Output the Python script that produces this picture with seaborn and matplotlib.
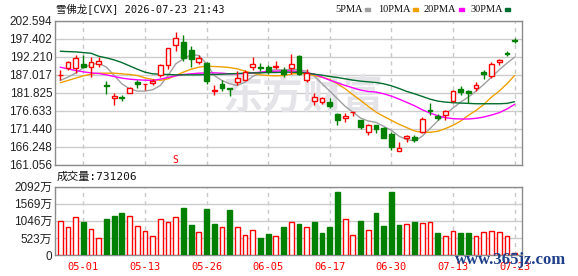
import matplotlib
matplotlib.use("Agg")
import matplotlib.pyplot as plt
from matplotlib.patches import Rectangle
import numpy as np
import pandas as pd
import seaborn as sns

# ---- values ----
title = "雪佛龙[CVX] 2026-07-23 21:43"
volume_note = "成交量:731206"

tick_pos = [3, 11, 19, 27, 35, 43, 51, 59]
tick_dates = ["05-01", "05-13", "05-26", "06-05", "06-17", "06-30", "07-13", "07-23"]

price_ticks = ["161.056", "166.248", "171.440", "176.633", "181.825",
               "187.017", "192.210", "197.402", "202.594"]
vol_ticks = [0, 523, 1046, 1569, 2092]
vol_tick_labels = ["0", "523万", "1046万", "1569万", "2092万"]

opens = [186.9, 188.9, 188.9, 190.0, 189.4, 190.2, 184.1, 180.2, 180.7, 181.8,
         184.9, 184.35, 184.6, 187.0, 189.9, 195.6, 196.4, 194.2, 190.6, 190.4,
         182.4, 184.4, 183.1, 184.9, 185.6, 189.4, 189.4, 189.4, 189.3, 188.5,
         188.9, 192.3, 185.4, 179.5, 179.1, 179.2, 175.8, 174.5, 176.2, 174.1,
         170.6, 172.7, 171.8, 170.1, 165.1, 168.7, 169.2, 170.5, 177.0, 175.1,
         175.4, 179.5, 182.9, 182.5, 183.3, 187.7, 186.6, 190.6, 193.4, 197.0]
highs = [188.5, 191.1, 192.6, 192.8, 192.1, 192.1, 185.1, 181.8, 181.3, 183.5,
         185.4, 184.5, 185.9, 190.0, 194.7, 199.3, 198.5, 195.4, 192.6, 190.6,
         184.1, 185.4, 183.3, 188.1, 188.5, 192.1, 190.5, 189.7, 191.1, 189.4,
         193.0, 192.6, 188.7, 181.9, 180.6, 180.4, 175.9, 176.0, 176.3, 174.1,
         173.0, 172.7, 172.0, 170.6, 167.7, 169.7, 169.6, 174.9, 178.9, 175.8,
         176.8, 182.7, 183.7, 182.7, 184.9, 188.4, 190.6, 191.6, 194.0, 197.5]
lows = [185.4, 188.4, 187.5, 188.9, 186.5, 189.2, 181.6, 178.4, 179.5, 181.8,
        183.2, 182.7, 184.0, 186.5, 188.7, 194.0, 191.1, 189.4, 190.2, 184.4,
        181.1, 182.5, 180.8, 184.2, 185.4, 188.3, 188.0, 187.3, 188.7, 186.3,
        187.2, 186.9, 184.9, 178.2, 178.7, 177.5, 172.7, 173.3, 175.2, 171.3,
        169.6, 170.3, 168.7, 165.3, 165.1, 167.8, 167.7, 170.4, 175.5, 174.1,
        174.1, 179.3, 181.1, 178.9, 182.3, 185.9, 186.2, 189.7, 192.3, 196.2]
closes = [187.1, 190.6, 191.8, 189.4, 190.6, 191.1, 183.8, 181.0, 180.4, 183.3,
          184.3, 184.45, 185.2, 189.7, 194.7, 197.5, 191.8, 191.6, 191.8, 185.1,
          182.6, 183.3, 182.9, 186.2, 187.8, 190.2, 189.0, 188.1, 189.5, 187.3,
          190.2, 187.2, 187.5, 180.6, 180.3, 177.9, 173.9, 175.3, 176.3, 172.0,
          172.7, 171.4, 168.8, 166.1, 165.9, 169.4, 168.3, 174.3, 176.6, 174.5,
          176.5, 182.3, 182.1, 181.9, 184.1, 187.3, 190.2, 191.2, 193.0, 196.8]
# volume in 万 shares
volumes = [1056, 845, 1167, 1026, 805, 533, 1117, 1207, 1298, 1207,
           895, 744, 594, 1107, 996, 1167, 1449, 905, 714, 1418,
           936, 865, 1388, 865, 624, 775, 513, 634, 594, 845,
           996, 936, 865, 1026, 664, 845, 1931, 1107, 624, 1056,
           775, 1298, 875, 1931, 905, 936, 996, 966, 996, 664,
           594, 744, 664, 664, 594, 694, 744, 694, 594, 73.12]

ma5 = [185.39, 186.34, 187.49, 189.02, 189.97, 190.36, 189.21, 186.82, 184.43, 183.00,
       182.33, 182.33, 182.71, 183.95, 186.82, 190.17, 191.60, 192.84, 192.56, 190.17,
       186.82, 185.39, 184.43, 183.95, 184.91, 186.53, 187.58, 188.25, 188.45, 188.45,
       188.64, 188.45, 188.06, 186.63, 184.43, 182.33, 180.13, 177.93, 176.30, 174.58,
       173.72, 173.34, 172.19, 171.05, 169.33, 168.37, 167.99, 169.33, 171.52, 173.72,
       175.63, 177.45, 179.17, 180.61, 182.33, 184.24, 186.34, 188.45, 190.36, 192.08]
ma10 = [184.72, 185.39, 186.06, 186.72, 187.20, 187.49, 187.49, 187.49, 187.30, 187.11,
        186.82, 186.15, 185.67, 185.39, 185.86, 186.82, 187.78, 188.64, 189.21, 189.50,
        189.40, 189.31, 189.11, 188.73, 188.06, 187.49, 187.01, 186.82, 186.72, 186.82,
        187.20, 187.49, 187.20, 186.82, 186.34, 185.67, 184.43, 183.00, 181.28, 179.65,
        177.93, 176.30, 175.06, 173.91, 172.77, 171.81, 170.86, 170.47, 170.47, 170.76,
        171.52, 172.48, 173.72, 175.35, 176.78, 178.50, 180.61, 182.33, 184.43, 186.82]
ma20 = [189.21, 188.73, 188.25, 187.87, 187.58, 187.39, 187.01, 186.53, 186.06, 185.77,
        185.58, 185.48, 185.39, 185.77, 186.25, 186.72, 187.11, 187.30, 187.49, 187.58,
        187.58, 187.49, 187.30, 187.30, 187.39, 187.58, 187.78, 187.97, 188.06, 188.16,
        188.16, 187.97, 187.58, 187.20, 186.34, 185.48, 184.72, 183.95, 183.28, 182.61,
        182.23, 182.04, 181.56, 180.89, 180.03, 179.08, 178.12, 176.97, 176.02, 175.25,
        174.68, 174.39, 174.30, 174.30, 174.49, 174.87, 175.44, 176.11, 177.17, 178.50]
ma30 = [193.80, 193.70, 193.61, 193.42, 193.22, 192.36, 191.89, 191.31, 190.55, 189.59,
        188.64, 187.78, 187.30, 187.20, 187.11, 187.01, 187.01, 187.01, 187.01, 187.11,
        187.11, 187.20, 187.30, 187.39, 187.49, 187.58, 187.58, 187.68, 187.68, 187.78,
        187.78, 187.68, 187.49, 187.20, 186.92, 186.53, 186.25, 185.86, 185.48, 185.19,
        185.00, 184.81, 184.43, 183.86, 183.09, 182.23, 181.56, 180.80, 180.03, 179.46,
        179.17, 178.98, 178.89, 178.79, 178.69, 178.69, 178.69, 178.69, 178.79, 179.27]

RED = "#ff0000"
GREEN = "#008000"
ma_colors = {"5PMA": "#a0a0a0", "10PMA": "#f0a000", "20PMA": "#ff00ff", "30PMA": "#006e2e"}

sns.set_style("white")
plt.rcParams["font.family"] = ["Liberation Sans", "Noto Sans CJK SC"]
mono_cjk = ["DejaVu Sans Mono", "Noto Sans CJK SC"]

W, H = 578, 276
fig = plt.figure(figsize=(W / 100, H / 100), dpi=100)


def px_box(x0, y0, x1, y1):
    # pixel box (top-left origin) -> figure fraction rect
    return [x0 / W, 1 - y1 / H, (x1 - x0) / W, (y1 - y0) / H]


ax = fig.add_axes(px_box(55, 20.7, 522.3, 165))
axv = fig.add_axes(px_box(55, 186.7, 522.3, 255))

df = pd.DataFrame({"day": np.arange(len(closes)), "open": opens, "high": highs,
                   "low": lows, "close": closes, "vol": volumes})
rising = df["close"] >= df["open"]
edge = np.where(rising, RED, GREEN)
face = np.where(rising, "white", GREEN)

# moving averages
ma = pd.DataFrame({"day": df["day"], "5PMA": ma5, "10PMA": ma10,
                   "20PMA": ma20, "30PMA": ma30}).melt("day", var_name="ma", value_name="price")
sns.lineplot(data=ma, x="day", y="price", hue="ma", palette=ma_colors,
             linewidth=1, legend=False, ax=ax, zorder=2)

# candles
ax.vlines(df["day"], df["low"], df["high"], colors=edge, linewidth=1, zorder=3)
body = (df["close"] - df["open"]).abs().clip(lower=0.08)
ax.bar(df["day"], body, bottom=df[["open", "close"]].min(axis=1), width=0.62,
       color=face, edgecolor=edge, linewidth=1, zorder=4)

# volume, coloured by change against previous close
prev = df["close"].shift(1).fillna(df["open"])
vol_up = df["close"] >= prev
axv.bar(df["day"], df["vol"], width=0.62, color=np.where(vol_up, "white", GREEN),
        edgecolor=np.where(vol_up, RED, GREEN), linewidth=1, zorder=3)

for a in (ax, axv):
    a.set_xlim(-0.68, 60.0)
    a.set_xticks(tick_pos)
    a.xaxis.grid(True, color="#c8c8c8", linestyle=(0, (3, 3)), linewidth=1)
    a.yaxis.grid(True, color="#cccccc", linewidth=1)
    a.set_axisbelow(True)
    for s in a.spines.values():
        s.set_color("#8c8c8c")
        s.set_linewidth(1)
    a.tick_params(length=0, pad=2, labelsize=8.5, labelcolor="#222222")
    a.set_xlabel("")
    a.set_ylabel("")

ax.set_ylim(float(price_ticks[0]), float(price_ticks[-1]))
ax.set_yticks([float(t) for t in price_ticks], price_ticks)
ax.set_xticklabels([])

axv.set_ylim(0, vol_ticks[-1])
axv.set_yticks(vol_ticks, vol_tick_labels)
axv.set_xticks(tick_pos, tick_dates)
axv.tick_params(axis="x", pad=5, labelcolor=RED)
for lbl in axv.get_xticklabels():
    lbl.set_family("DejaVu Sans Mono")
    lbl.set_fontsize(7.5)

# watermark and marks inside the price panel
ax.text(0.53, 0.47, "东方财富", transform=ax.transAxes, fontsize=29,
        color="#e4e4e8", fontweight="bold", family="Noto Sans CJK SC",
        ha="center", va="center", zorder=1)
ax.text(15, 162.6, "S", color=RED, fontsize=7, ha="center", va="center",
        family="DejaVu Sans Mono", zorder=5)

# title and legend
fig.text(56 / W, 1 - 8.5 / H, title, fontsize=7.5, family=mono_cjk, color="#111111",
         ha="left", va="center")
legend_items = [("5PMA", 365), ("10PMA", 413), ("20PMA", 459), ("30PMA", 505)]
for name, sx in legend_items:
    fig.text((sx - 2.5) / W, 1 - 9 / H, name, fontsize=7.5, family="Liberation Serif",
             color="#111111", ha="right", va="center")
    fig.patches.append(Rectangle((sx / W, 1 - 10.5 / H), 5 / W, 2.5 / H,
                                 transform=fig.transFigure, color=ma_colors[name]))

fig.text(57 / W, 1 - 176.5 / H, volume_note, fontsize=8, family=mono_cjk,
         color="#111111", ha="left", va="center")
# site stamp that sits over the last date labels in the reference
fig.text(455 / W, 1 - 260.5 / H, "www.365jz.com", fontsize=12, family="Liberation Serif",
         fontweight="bold", color="#1f3f8a", ha="left", va="center", zorder=10)

fig.savefig("out.png", dpi=100)
